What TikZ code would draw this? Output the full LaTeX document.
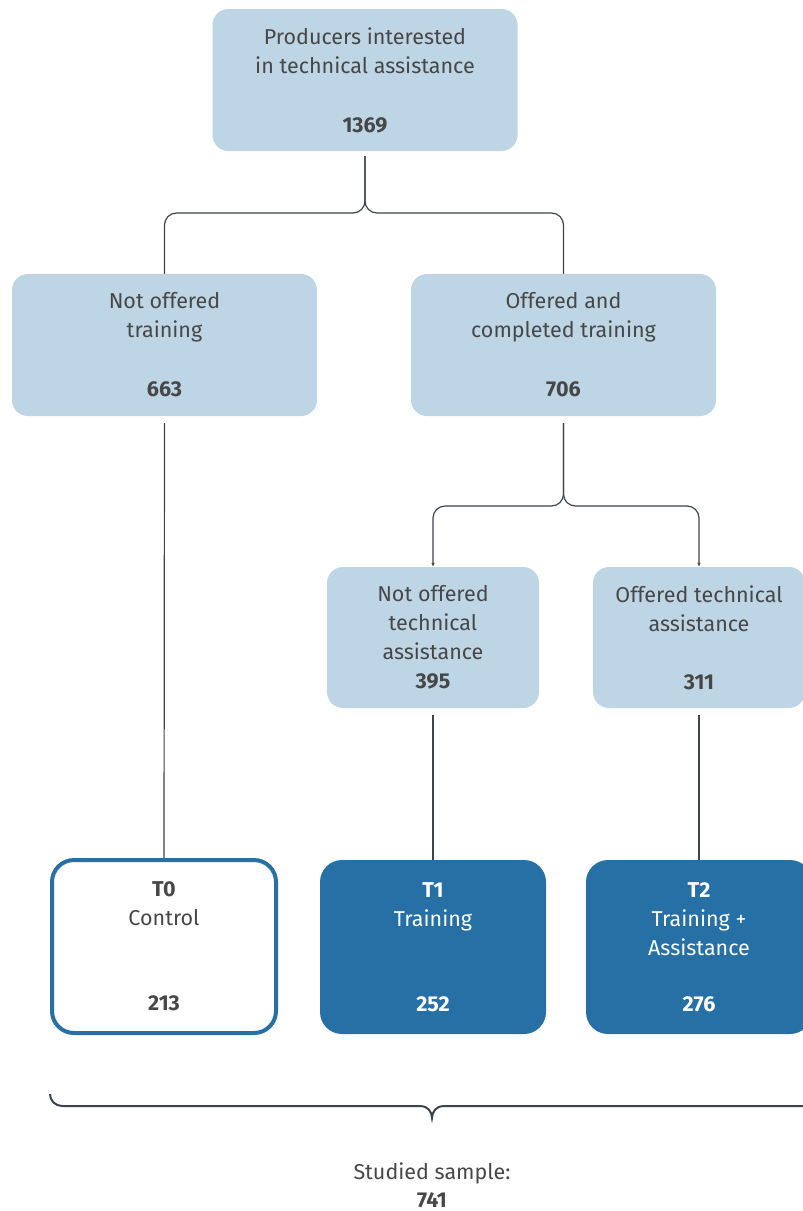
\documentclass[tikz,border=0pt]{standalone}
\usepackage{fontspec}
\setmainfont{Fira Sans}
\usetikzlibrary{arrows.meta,positioning}
\definecolor{paleblue}{HTML}{BED5E5}
\definecolor{deepblue}{HTML}{2670A5}
\definecolor{inkgray}{HTML}{474747}
\definecolor{linegray}{HTML}{3E444D}
\begin{document}
\begin{tikzpicture}[x=1pt, y=-1pt,
    group node/.style={rectangle, rounded corners=16pt, fill=paleblue, text=inkgray, align=center, minimum width=305pt, minimum height=142pt},
    arm node/.style={group node, minimum width=212pt, minimum height=141pt},
    treat node/.style={rectangle, rounded corners=22pt, fill=deepblue, text=white, align=center, minimum width=226pt, minimum height=174pt},
    link/.style={draw=linegray, line width=1.2pt, rounded corners=12pt},
    tip link/.style={link, -{Latex[length=4pt,width=3.5pt]}}]
    \tikzstyle{every node}=[font=\fontsize{21.5}{29}\selectfont]
    \useasboundingbox (0,0) rectangle (803,1211);

    \node[group node] (all) at (365,80) {Producers interested\\in technical assistance\\[30pt]\textbf{1369}};
    \node[group node] (notrain) at (164.5,345) {Not offered\\training\\[30pt]\textbf{663}};
    \node[group node] (train) at (563.5,345) {Offered and\\completed training\\[30pt]\textbf{706}};
    \node[arm node] (noassist) at (433,637.5) {Not offered\\technical\\assistance\\\textbf{395}};
    \node[arm node] (assist) at (699,637.5) {Offered technical\\assistance\\[29pt]\textbf{311}};

    \node[treat node, fill=white, draw=deepblue, line width=4pt, text=inkgray, minimum width=224pt, minimum height=173pt] (t0) at (164,946.5) {\textbf{T0}\\Control\\[56pt]\textbf{213}};
    \node[treat node] (t1) at (433,947) {\textbf{T1}\\Training\\[56pt]\textbf{252}};
    \node[treat node] (t2) at (699,947) {\textbf{T2}\\Training +\\Assistance\\[27pt]\textbf{276}};

    \node[text=inkgray, align=center, font=\fontsize{21.5}{28}\selectfont] (sample) at (432,1185) {Studied sample:\\\textbf{741}};

    % first split
    \coordinate (fork) at (365,213);
    \draw[link] ([yshift=-5pt]all.south) -- (all.south |- fork) -| (notrain.north);
    \draw[link] ([yshift=-5pt]all.south) -- (all.south |- fork) -| (train.north);

    % second split
    \coordinate (fork2) at (563.5,506);
    \draw[tip link] ([yshift=-7pt]train.south) -- (train.south |- fork2) -| (noassist.north);
    \draw[tip link] ([yshift=-7pt]train.south) -- (train.south |- fork2) -| (assist.north);

    % down to the groups
    \draw[link] ([yshift=-7pt]notrain.south) -- (t0.north);
    \draw[link] ([yshift=-7pt]noassist.south) -- (t1.north);
    \draw[link] ([yshift=-7pt]assist.south) -- (t2.north);

    % brace under the sample
    \draw[draw=linegray, line width=2pt] (50,1094) to[out=-90,in=180] (62,1106) -- (421,1106)
        to[out=0,in=90] (432,1118) to[out=90,in=180] (443,1106) -- (820,1106);
\end{tikzpicture}
\end{document}
